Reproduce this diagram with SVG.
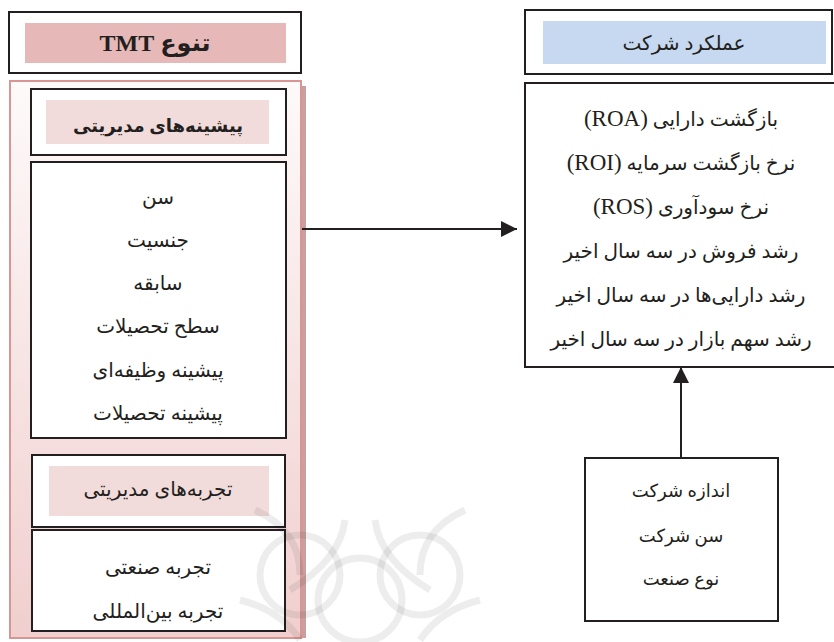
<svg xmlns="http://www.w3.org/2000/svg" width="834" height="642" viewBox="0 0 834 642">
<defs>
<style>
.box{fill:#fff;stroke:#231f20;stroke-width:2}
.t{font-family:"Liberation Serif","DejaVu Sans",serif;font-size:20px;fill:#231f20;text-anchor:middle;direction:rtl;unicode-bidi:embed}
.b{font-weight:bold}
.lat{font-size:23px}
.wm{fill:none;stroke:#000;stroke-opacity:0.07;stroke-width:7}
.conn{stroke:#231f20;stroke-width:2;fill:none}
</style>
<linearGradient id="pg" x1="0" y1="0" x2="0" y2="1">
<stop offset="0" stop-color="#fefafa"/>
<stop offset="1" stop-color="#f0cfce"/>
</linearGradient>
<marker id="ah" viewBox="0 0 10 10" refX="10" refY="5" markerWidth="16" markerHeight="16" markerUnits="userSpaceOnUse" orient="auto">
<path d="M0,0 L10,5 L0,10 Z" fill="#231f20"/>
</marker>
</defs>
<rect width="834" height="642" fill="#fff"/>

<g id="tmt-title">
<rect class="box" x="9" y="12" width="292" height="61"/>
<rect x="25" y="23" width="261" height="40" fill="#e6b8b7"/>
<text class="t b" x="155" y="51" style="font-size:24px">تنوع TMT</text>
</g>

<g id="tmt-container">
<rect x="302" y="86" width="4" height="552" fill="#c9a09f"/>
<rect x="10" y="81" width="291" height="557" fill="url(#pg)" stroke="#d99594" stroke-width="2"/>
</g>

<g id="background-title">
<rect class="box" x="31" y="89" width="255" height="66"/>
<rect x="46" y="100" width="223" height="44" fill="#f2dcdb"/>
<text class="t b" x="158" y="132" style="font-size:18px">پیشینه‌های مدیریتی</text>
</g>

<g id="background-list">
<rect class="box" x="31" y="162" width="255" height="276"/>
<text class="t" x="158" y="204">سن</text>
<text class="t" x="158" y="247">جنسیت</text>
<text class="t" x="158" y="290">سابقه</text>
<text class="t" x="158" y="333">سطح تحصیلات</text>
<text class="t" x="158" y="377">پیشینه وظیفه‌ای</text>
<text class="t" x="158" y="420">پیشینه تحصیلات</text>
</g>

<g id="experience-title">
<rect class="box" x="32" y="455" width="253" height="72"/>
<rect x="49" y="466" width="220" height="50" fill="#f2dcdb"/>
<text class="t" x="158" y="496">تجربه‌های مدیریتی</text>
</g>

<g id="experience-list">
<rect class="box" x="32" y="530" width="253" height="101"/>
<text class="t" x="158" y="574">تجربه صنعتی</text>
<text class="t" x="158" y="618">تجربه بین‌المللی</text>
</g>

<g id="performance-title">
<rect class="box" x="525" y="10" width="307" height="64"/>
<rect x="543" y="21" width="283" height="43" fill="#c6d9f0"/>
<text class="t" x="684" y="50">عملکرد شرکت</text>
</g>

<g id="performance-list">
<rect class="box" x="525" y="83" width="312" height="284"/>
<text class="t" x="681" y="126">بازگشت دارایی <tspan class="lat">(ROA)</tspan></text>
<text class="t" x="681" y="170">نرخ بازگشت سرمایه <tspan class="lat">(ROI)</tspan></text>
<text class="t" x="681" y="214">نرخ سودآوری <tspan class="lat">(ROS)</tspan></text>
<text class="t" x="681" y="258">رشد فروش در سه سال اخیر</text>
<text class="t" x="681" y="302">رشد دارایی‌ها در سه سال اخیر</text>
<text class="t" x="681" y="346">رشد سهم بازار در سه سال اخیر</text>
</g>

<g id="controls">
<rect class="box" x="585" y="458" width="193" height="163"/>
<text class="t" x="681" y="497" style="font-size:18px">اندازه شرکت</text>
<text class="t" x="681" y="542" style="font-size:18px">سن شرکت</text>
<text class="t" x="681" y="585" style="font-size:18px">نوع صنعت</text>
</g>

<g id="connectors">
<line class="conn" x1="302" y1="229" x2="517" y2="229" marker-end="url(#ah)"/>
<line class="conn" x1="681" y1="458" x2="681" y2="367" marker-end="url(#ah)"/>
</g>

<g id="watermark">
<circle class="wm" cx="360" cy="600" r="42"/>
<circle class="wm" cx="300" cy="575" r="40"/>
<circle class="wm" cx="420" cy="575" r="40"/>
<path class="wm" d="M345,520 Q340,560 290,590 M375,520 Q380,560 430,590 M255,510 Q300,530 300,575 M465,510 Q420,530 420,575 M240,600 Q280,610 300,640 M480,600 Q440,610 420,640"/>
</g>
</svg>
